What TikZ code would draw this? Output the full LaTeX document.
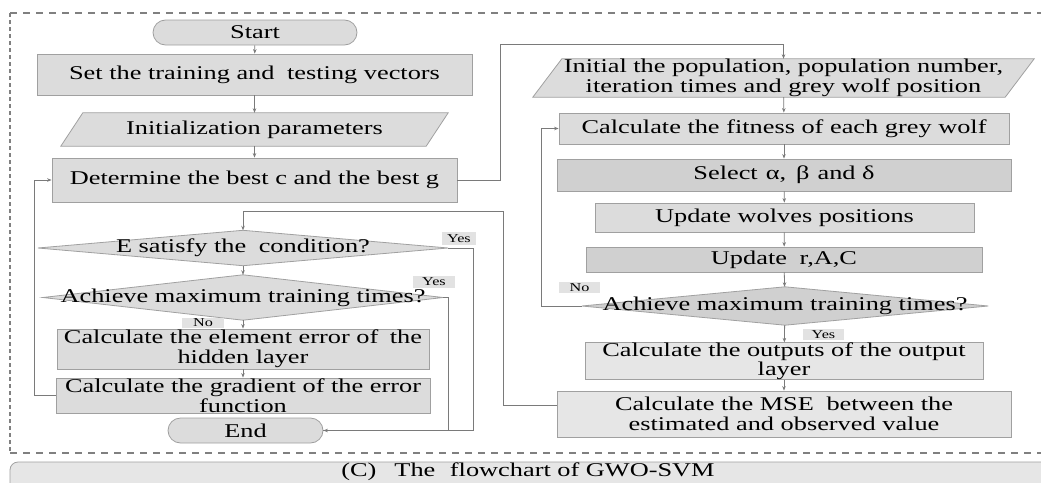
\documentclass[tikz,border=0pt]{standalone}
\usepackage{fontspec}
\setmainfont{Liberation Serif}[FakeStretch=1.35]
\usetikzlibrary{arrows.meta,calc}
\pgfdeclarelayer{bg}
\pgfsetlayers{bg,main}
\definecolor{boxfill}{HTML}{DCDCDC}
\definecolor{boxdark}{HTML}{D0D0D0}
\definecolor{boxline}{HTML}{A0A0A0}
\definecolor{wire}{HTML}{7A7A7A}
\definecolor{lblfill}{HTML}{E2E2E2}
\definecolor{capfill}{HTML}{E6E6E6}
\definecolor{framec}{HTML}{808080}
\tikzset{
  txt/.style={font=\fontsize{19.5}{20}\selectfont, text=black},
  stepbox/.style={txt, draw=boxline, fill=boxfill, line width=0.8pt, inner sep=0pt, align=center, minimum width=#1},
  termbox/.style={stepbox=#1, rounded corners=12.5pt, minimum height=25pt},
  plain/.style={txt, inner sep=0pt, align=center},
  decbox/.style={txt, inner sep=0pt},
  lbl/.style={fill=lblfill, inner sep=0pt, font=\fontsize{12}{12}\selectfont, text=black},
  wireline/.style={draw=wire, line width=0.8pt},
  arr/.style={wireline, -{Stealth[length=4.5pt,width=3.5pt]}},
}
\begin{document}
\begin{tikzpicture}[x=1pt,y=-1pt]
\path[use as bounding box, clip] (0,0) rectangle (1041,482);

% frame
\draw[framec, line width=1.1pt, dash pattern=on 7pt off 6pt] (10,453) -- (1070,453);
\draw[framec, line width=1.1pt, dash pattern=on 7pt off 6pt] (10,13) -- (1070,13);
\draw[framec, line width=1.1pt, dash pattern=on 4pt off 3pt] (10,13) -- (10,453);

% caption bar
\node[draw=boxline, fill=capfill, rounded corners=8pt, minimum width=1040pt, minimum height=38pt, line width=0.8pt, inner sep=0pt] (capbar) at (530,481) {};
\node[txt] (cap) at (528,472) {(C)\hspace{18pt}The\hspace{8pt} flowchart of GWO-SVM};

% left column
\node[termbox=204pt] (start) at (255,32.5) {Start};
\node[stepbox=435pt, minimum height=41pt] (set) at (254.5,74.5) {Set the training and\hspace{6pt} testing vectors};
\node[plain, minimum width=387pt, minimum height=33pt] (init) at (254.5,129.5) {Initialization parameters};
\node[stepbox=405pt, minimum height=44pt] (det) at (254.5,180) {Determine the best c and the best g};
\node[decbox, minimum width=410pt, minimum height=35pt] (esat) at (243,248) {\makebox[0pt]{E satisfy the\hspace{6pt} condition?}};
\node[decbox, minimum width=400pt, minimum height=45pt] (amax) at (243,297.5) {\makebox[0pt]{Achieve maximum training times?}};
\node[stepbox=372pt, minimum height=40pt] (calc) at (243,349) {Calculate the element error of\hspace{5pt} the\\hidden layer};
\node[stepbox=374pt, minimum height=35pt] (grad) at (243,395.5) {Calculate the gradient of the error\\function};
\node[termbox=155pt] (end) at (245.5,430.5) {End};

% right column
\node[plain, minimum width=501pt, minimum height=38pt] (initg) at (783.5,78) {Initial the population, population number,\\iteration times and grey wolf position};
\node[stepbox=450pt, minimum height=31pt] (fit) at (784,128.5) {Calculate the fitness of each grey wolf};
\node[stepbox=454pt, minimum height=32pt, fill=boxdark] (sel) at (784,175) {Select\hspace{8pt}α,\hspace{10pt}β\hspace{8pt}and δ};
\node[stepbox=379pt, minimum height=29pt] (upw) at (784.5,217.5) {Update wolves positions};
\node[stepbox=396pt, minimum height=25pt, fill=boxdark] (upr) at (784,259.5) {Update\hspace{6pt} r,A,C};
\node[decbox, minimum width=406pt, minimum height=38pt] (amax2) at (785,306) {\makebox[0pt]{Achieve maximum training times?}};
\node[stepbox=398pt, minimum height=33pt, fill=boxfill!70!white, font=\fontsize{19.5}{18.5}\selectfont] (out) at (784,361) {Calculate the outputs of the output\\layer};
\node[stepbox=454pt, minimum height=46pt, fill=boxfill!70!white] (mse) at (784,414) {Calculate the MSE\hspace{6pt} between the\\estimated and observed value};

% background shapes
\begin{pgfonlayer}{bg}
\filldraw[draw=boxline, fill=boxfill, line width=0.8pt] ([xshift=22pt]init.north west) -- (init.north east) -- ([xshift=-22pt]init.south east) -- (init.south west) -- cycle;
\filldraw[draw=boxline, fill=boxfill, line width=0.8pt] ([xshift=29pt]initg.north west) -- (initg.north east) -- ([xshift=-29pt]initg.south east) -- (initg.south west) -- cycle;
\filldraw[draw=boxline, fill=boxfill, line width=0.8pt] (esat.west) -- (esat.north) -- (esat.east) -- (esat.south) -- cycle;
\filldraw[draw=boxline, fill=boxfill, line width=0.8pt] (amax.west) -- (amax.north) -- (amax.east) -- (amax.south) -- cycle;
\filldraw[draw=boxline, fill=boxdark, line width=0.8pt] (amax2.west) -- (amax2.north) -- (amax2.east) -- (amax2.south) -- cycle;
\end{pgfonlayer}

% labels
\node[lbl, minimum width=34pt, minimum height=13pt] (yes1) at (459,238.5) {Yes};
\node[lbl, minimum width=42pt, minimum height=12pt] (yes2) at (434,282) {Yes};
\node[lbl, minimum width=42pt, minimum height=10pt] (no1) at (203,322.5) {No};
\node[lbl, minimum width=41pt, minimum height=11pt] (no2) at (579.5,287.5) {No};
\node[lbl, minimum width=41pt, minimum height=11pt] (yes3) at (823.5,334.5) {Yes};

% connectors left
\draw[arr] (start) -- (set);
\draw[arr] (set) -- (init);
\draw[arr] (init) -- (det);
\coordinate (c1) at (500,44);
\draw[arr] (det.east) -| (c1) -| (initg.north);
\coordinate (c2) at (503,211);
\draw[arr] ([yshift=9pt]mse.west) -| (c2) -| (esat.north);
\draw[arr] (esat) -- (amax);
\draw[arr] (amax) -- (calc);
\draw[arr] (calc) -- (grad);
\draw[arr] (grad.west) -- ++(-21,0) |- (det.west);
\draw[arr] (esat.east) -- ++(25,0) |- (end.east);
\draw[wireline] (amax.east) -- ++(5,0) |- (end.east);

% connectors right
\draw[arr] (initg) -- (fit);
\draw[arr] (fit) -- (sel);
\draw[arr] (sel) -- (upw);
\draw[arr] (upw) -- (upr);
\draw[arr] (upr) -- (amax2);
\draw[arr] (amax2.west) -- ++(-40,0) |- (fit.west);
\draw[arr] (amax2) -- (out);
\draw[arr] (out) -- (mse);
\end{tikzpicture}
\end{document}
